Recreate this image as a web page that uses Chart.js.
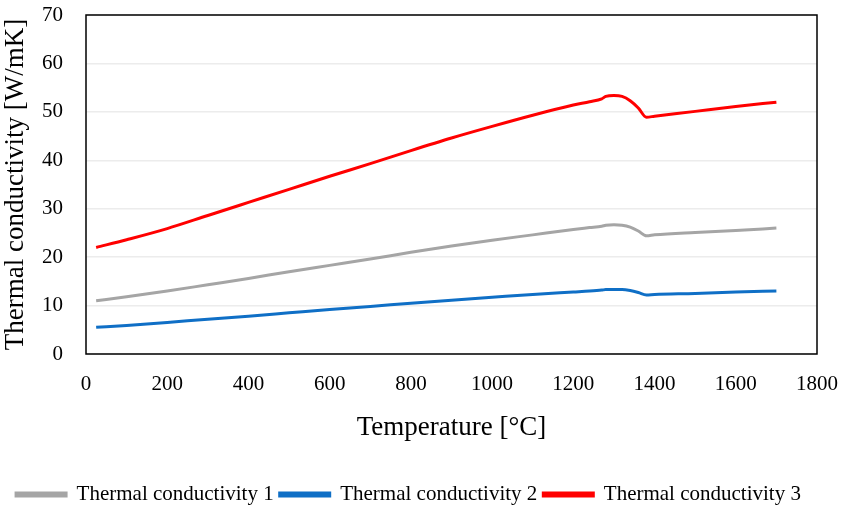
<!DOCTYPE html>
<html>
<head>
<meta charset="utf-8">
<script src="https://cdn.jsdelivr.net/npm/chart.js@4/dist/chart.umd.min.js"></script>
<style>
  html, body { margin: 0; padding: 0; background: #fff; }
  #wrap { width: 845px; height: 508px; position: relative; }
</style>
</head>
<body>
<div id="wrap"><canvas id="chart"></canvas></div>
<script>
// temperatures [°C]
const temps = [25, 100, 200, 300, 400, 500, 600, 700, 800, 900, 1000, 1100, 1200, 1240, 1270, 1280, 1300, 1320, 1340, 1360, 1380, 1400, 1500, 1600, 1700]
// thermal conductivity [W/mK]
const cond1 = [11.0, 11.8, 13.0, 14.3, 15.6, 17.0, 18.3, 19.6, 21.0, 22.3, 23.5, 24.6, 25.7, 26.1, 26.4, 26.6, 26.7, 26.6, 26.2, 25.4, 24.4, 24.6, 25.1, 25.5, 26.0]
const cond2 = [5.5, 5.9, 6.5, 7.2, 7.8, 8.5, 9.2, 9.8, 10.5, 11.1, 11.7, 12.3, 12.8, 13.0, 13.2, 13.3, 13.3, 13.3, 13.1, 12.7, 12.2, 12.3, 12.5, 12.8, 13.0]
const cond3 = [22.0, 23.6, 25.9, 28.6, 31.3, 34.0, 36.7, 39.3, 42.0, 44.6, 47.0, 49.3, 51.4, 52.1, 52.7, 53.2, 53.4, 53.2, 52.3, 50.8, 48.9, 49.1, 50.1, 51.1, 52.0]
const xTicks = [0, 200, 400, 600, 800, 1000, 1200, 1400, 1600, 1800]
const yTicks = [0, 10, 20, 30, 40, 50, 60, 70]

const serif = "'Liberation Serif', 'DejaVu Serif', serif"

function pts(ys){
    return temps.map((t, i) => ({x: t, y: ys[i]}))
}

function series(label, ys, color){
    return {
        label: label,
        data: pts(ys),
        borderColor: color,
        backgroundColor: color,
        borderWidth: 3,
        pointRadius: 0,
        cubicInterpolationMode: 'monotone'
    }
}

// black frame round the plot area
const frame = {
    id: 'frame',
    afterDraw(chart){
        const a = chart.chartArea
        const ctx = chart.ctx
        ctx.save()
        ctx.strokeStyle = '#000'
        ctx.lineWidth = 1.5
        ctx.strokeRect(a.left, a.top, a.right - a.left, a.bottom - a.top)
        ctx.restore()
    }
}

new Chart(document.getElementById('chart'), {
    type: 'line',
    data: {
        datasets: [
            series('Thermal conductivity 1', cond1, '#a5a5a5'),
            series('Thermal conductivity 2', cond2, '#0f6fc6'),
            series('Thermal conductivity 3', cond3, '#ff0000')
        ]
    },
    options: {
        responsive: true,
        maintainAspectRatio: false,
        animation: false,
        layout: { padding: { top: 15, right: 28, bottom: -7, left: 0 } },
        plugins: {
            tooltip: { enabled: false },
            legend: {
                position: 'bottom',
                labels: {
                    boxWidth: 50,
                    boxHeight: 3,
                    padding: 6,
                    color: '#000',
                    font: { family: serif, size: 21 }
                }
            }
        },
        scales: {
            x: {
                type: 'linear',
                min: 0,
                max: 1800,
                afterBuildTicks: s => { s.ticks = xTicks.map(v => ({value: v})) },
                afterFit: s => { s.height = 124; s.paddingLeft = 0; s.paddingRight = 0 },
                grid: { display: false, drawTicks: false },
                border: { display: false },
                ticks: { color: '#000', padding: 18, maxRotation: 0, callback: v => String(v), font: { family: serif, size: 21 } },
                title: { display: true, text: 'Temperature [°C]', color: '#000', padding: { top: 10, bottom: 34 }, font: { family: serif, size: 27 } }
            },
            y: {
                min: 0,
                max: 70,
                afterBuildTicks: s => { s.ticks = yTicks.map(v => ({value: v})) },
                afterFit: s => { s.width = 86; s.paddingTop = 0; s.paddingBottom = 0 },
                grid: { color: '#ececec', lineWidth: 1.5, drawTicks: false },
                border: { display: false },
                ticks: { color: '#000', padding: 23, font: { family: serif, size: 21 } },
                title: { display: true, text: 'Thermal conductivity [W/mK]', color: '#000', padding: { top: 0, bottom: 1 }, font: { family: serif, size: 27 } }
            }
        }
    },
    plugins: [frame]
})
</script>
</body>
</html>
